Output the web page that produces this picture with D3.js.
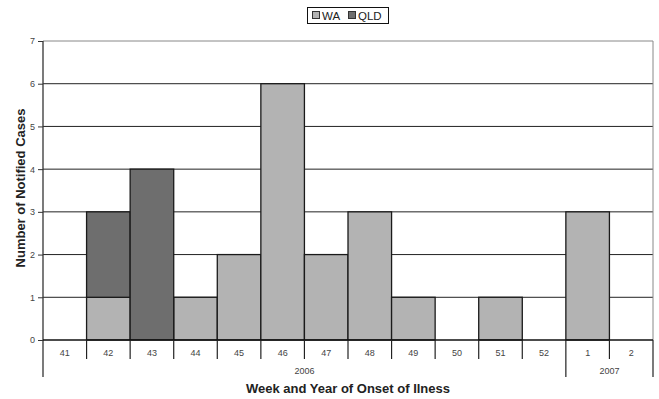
<!DOCTYPE html>
<html><head><meta charset="utf-8">
<script src="https://cdn.jsdelivr.net/npm/d3@7"></script>
<style>body{margin:0;background:#fff}svg{display:block}text{font-family:"Liberation Sans",Arial,sans-serif}</style>
</head><body><svg id="c" width="659" height="399"></svg>
<script>
const weeks = ["41","42","43","44","45","46","47","48","49","50","51","52","1","2"];
const years = [{label:"2006", from:"41", to:"52"},{label:"2007", from:"1", to:"2"}];
const waValues  = [0,1,0,1,2,6,2,3,1,0,1,0,3,0];
const qldValues = [0,2,4,0,0,0,0,0,0,0,0,0,0,0];
const seriesNames = ["WA","QLD"];
const seriesColors = ["#b3b3b3","#6e6e6e"];
const yTicks = [0,1,2,3,4,5,6,7];

const svg = d3.select("#c");
const L=43, R=653, T=41, B=340;
const x = d3.scaleBand().domain(weeks).range([L,R]).padding(0);
const y = d3.scaleLinear().domain([0,7]).range([B,T]);

const rows = weeks.map((w,i)=>({week:w, WA:waValues[i], QLD:qldValues[i]}));
const stack = d3.stack().keys(seriesNames)(rows);

// gridlines
svg.append("g").selectAll("line").data(yTicks.filter(d=>d>0)).join("line")
  .attr("x1",L).attr("x2",R).attr("y1",d=>y(d)).attr("y2",d=>y(d))
  .attr("stroke",d=>d===7?"#888":"#222").attr("stroke-width",1);
// right border
svg.append("line").attr("x1",R).attr("x2",R).attr("y1",T).attr("y2",B).attr("stroke","#888");

// bars
svg.append("g").selectAll("g").data(stack).join("g")
  .attr("fill",(d,i)=>seriesColors[i])
  .selectAll("rect").data(d=>d.filter(p=>p[1]>p[0])).join("rect")
  .attr("x",d=>x(d.data.week)).attr("width",x.bandwidth())
  .attr("y",d=>y(d[1])).attr("height",d=>y(d[0])-y(d[1]))
  .attr("stroke","#1a1a1a").attr("stroke-width",1.3);

// y axis
const ya = svg.append("g").attr("transform",`translate(${L},0)`)
  .call(d3.axisLeft(y).tickValues(yTicks).tickSize(5).tickFormat(d3.format("d")));
ya.select(".domain").remove();
ya.selectAll(".tick line").attr("stroke","#333");
ya.selectAll("text").attr("font-size",9).attr("fill","#444").attr("x",-8);
svg.append("line").attr("x1",L).attr("x2",L).attr("y1",T).attr("y2",377).attr("stroke","#333").attr("stroke-width",1.3);

// x axis base
svg.append("line").attr("x1",L).attr("x2",R).attr("y1",B).attr("y2",B).attr("stroke","#111").attr("stroke-width",1.3);

// week labels
svg.append("g").selectAll("text").data(weeks).join("text")
  .attr("x",d=>x(d)+x.bandwidth()/2).attr("y",356).attr("text-anchor","middle")
  .attr("font-size",9).attr("fill","#444").text(d=>d);
// week separators
const yearStarts = years.map(yr=>x(yr.from));
svg.append("g").selectAll("line").data(weeks.slice(1)).join("line")
  .attr("x1",d=>x(d)).attr("x2",d=>x(d)).attr("y1",B)
  .attr("y2",d=>yearStarts.includes(x(d))?377:359)
  .attr("stroke","#222").attr("stroke-width",1.2);
svg.append("line").attr("x1",R).attr("x2",R).attr("y1",B).attr("y2",377).attr("stroke","#222").attr("stroke-width",1.2);
// year labels
svg.append("g").selectAll("text").data(years).join("text")
  .attr("x",d=>(x(d.from)+x(d.to)+x.bandwidth())/2).attr("y",374).attr("text-anchor","middle")
  .attr("font-size",9).attr("fill","#444").text(d=>d.label);

// axis titles
svg.append("text").attr("x",348).attr("y",393).attr("text-anchor","middle")
  .attr("font-size",13).attr("font-weight","bold").attr("fill","#222").text("Week and Year of Onset of Ilness");
svg.append("text").attr("transform","translate(25,188) rotate(-90)").attr("text-anchor","middle")
  .attr("font-size",13).attr("font-weight","bold").attr("fill","#222").text("Number of Notified Cases");

// legend
const lg = svg.append("g");
lg.append("rect").attr("x",307.5).attr("y",7.5).attr("width",81).attr("height",16).attr("fill","#fff").attr("stroke","#111");
const items = [{n:"WA",x:312},{n:"QLD",x:348}];
items.forEach((it,i)=>{
  lg.append("rect").attr("x",it.x+0.5).attr("y",11.5).attr("width",7).attr("height",7).attr("fill",seriesColors[i]).attr("stroke","#333");
  lg.append("text").attr("x",it.x+10).attr("y",20).attr("font-size",11.5).attr("fill","#222").text(it.n);
});
</script></body></html>
